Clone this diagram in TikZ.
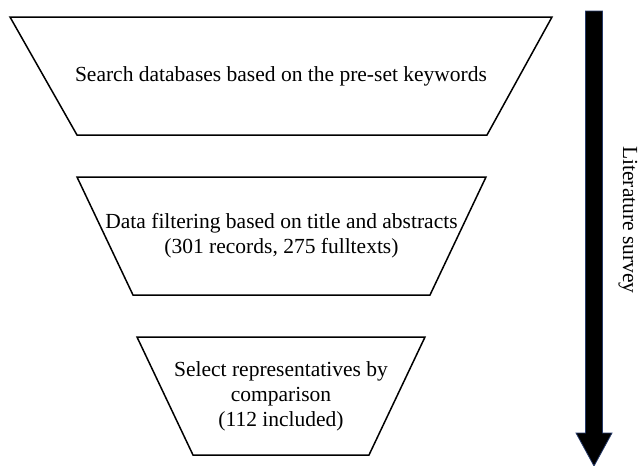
\documentclass[tikz,border=0pt]{standalone}
\usepackage{fontspec}
\setmainfont{Liberation Serif}
\usepackage{tikz}
\usetikzlibrary{positioning,calc}
\definecolor{edgeblue}{RGB}{38,58,105}

\begin{document}
\begin{tikzpicture}[
  x=1pt,y=-1pt,
  funnel/.style={draw,line width=1.5pt,line join=miter},
  txt/.style={font=\fontsize{21.5}{25}\selectfont,align=center,inner sep=0pt}
]
\useasboundingbox (0,0) rectangle (641,466);

%% ── Funnel stages (top edge, then bottom edge) ──────────────────────────────
\draw[funnel] (10,17) -- (552,17) -- (487,135) -- (77,135) -- cycle;
\draw[funnel] (77,177) -- (486,177) -- (430,295) -- (133,295) -- cycle;
\draw[funnel] (137,337) -- (425,337) -- (369,455) -- (193,455) -- cycle;

%% ── Stage texts ─────────────────────────────────────────────────────────────
\node[txt] (search) at (281,76) {Search databases based on the pre-set keywords};
\node[txt] (filter) at (281.5,236) {Data filtering based on title and abstracts\\(301 records, 275 fulltexts)};
\node[txt] (select) at (281,396) {Select representatives by\\comparison\\(112 included)};

%% ── Survey arrow on the right ───────────────────────────────────────────────
\coordinate (atop) at (594,11);
\coordinate (atip) at (594,466);
\filldraw[fill=black,draw=edgeblue,line width=0.8pt]
  ($(atop)+(-8.5,0)$) -- ($(atop)+(8.5,0)$) -- ($(atip)+(8.5,-33)$)
  -- ($(atip)+(18,-33)$) -- (atip) -- ($(atip)+(-18,-33)$)
  -- ($(atip)+(-8.5,-33)$) -- cycle;
\node[txt,rotate=-90] (survey) at (628,220) {Literature survey};
\end{tikzpicture}
\end{document}
